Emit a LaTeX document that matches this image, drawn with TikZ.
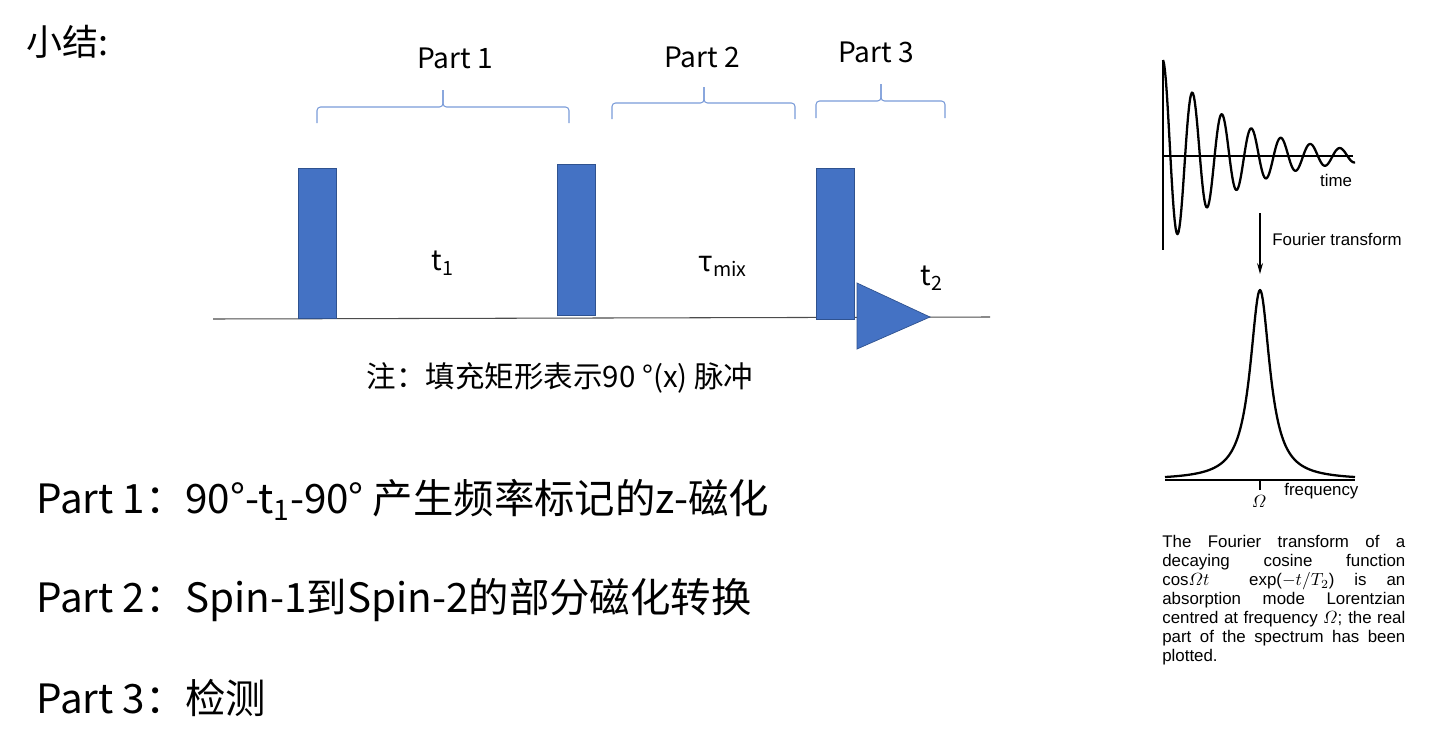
\documentclass[tikz,border=0pt]{standalone}
\usepackage{amsmath}
\usepackage{fontspec}
\setmainfont{Noto Sans CJK SC}
\newfontfamily\arialfont{Liberation Sans}
\usetikzlibrary{arrows.meta}
\definecolor{pulseblue}{HTML}{4472C4}
\definecolor{pulseedge}{HTML}{2F528F}
\definecolor{bracecol}{HTML}{7A9BD8}
\tikzstyle{pulse} = [rectangle, anchor=south, minimum width=0.76cm, minimum height=3cm, inner sep=0pt, draw=pulseedge, fill=pulseblue]
\tikzstyle{brace} = [draw=bracecol, line width=0.6pt, rounded corners=0.07cm]
\tikzstyle{seqline} = [draw=black!70, line width=0.6pt]
\tikzstyle{seqtext} = [inner sep=0pt, font=\fontsize{16}{19}\selectfont]
\tikzstyle{summary} = [anchor=west, inner sep=0pt, font=\fontsize{23}{27}\selectfont]
\tikzstyle{smalltext} = [inner sep=0pt, font=\arialfont\fontsize{9.6}{10.8}\selectfont]
\tikzstyle{axis} = [draw=black, line width=0.6pt]
\tikzstyle{curve} = [draw=black, line width=1.3pt, line join=round]
\tikzstyle{arrow} = [line width=0.6pt, -{Stealth[length=0.22cm, width=0.12cm]}]

\begin{document}
\begin{tikzpicture}[x=0.02cm, y=-0.02cm]
	\useasboundingbox (0,0) rectangle (1440,747);
	
	% Titel
	\node (title) [anchor=west, inner sep=0pt, font=\fontsize{20.5}{24}\selectfont] at (26,42) {小结:};
	
	% Pulsfolge
	\coordinate (axstart) at (213,319);
	\coordinate (axend) at (990,317);
	\draw [seqline] (axstart) -- (axend);
	\node (p1) [pulse, minimum height=3cm] at (317.5,319) {};
	\node (p2) [pulse, minimum height=3.02cm] at (576,316) {};
	\node (p3) [pulse, minimum height=3.02cm] at (835,320) {};
	\draw [fill=pulseblue, draw=pulseedge] (857,283) -- (857,349) -- (930,317) -- cycle;
	
	% Zeiten
	\node (t1) [seqtext] at (443,263) {t\textsubscript{1}};
	\node (tmix) [seqtext] at (723,266) {τ\textsubscript{mix}};
	\node (t2) [seqtext] at (932,278) {t\textsubscript{2}};
	
	% Klammern
	\draw [brace] (317,123) |- (443,107) -- (443,90);
	\draw [brace] (443,90) -- (443,107) -| (569,123);
	\draw [brace] (612,119) |- (704,103) -- (704,87);
	\draw [brace] (704,87) -- (704,103) -| (795,119);
	\draw [brace] (816,118) |- (881,101) -- (881,84);
	\draw [brace] (881,84) -- (881,101) -| (945,118);
	\node (part1) [seqtext] at (455,58) {Part 1};
	\node (part2) [seqtext] at (702,57) {Part 2};
	\node (part3) [seqtext] at (876,52) {Part 3};
	
	% Hinweis
	\node (note) [seqtext, font=\fontsize{16.8}{20}\selectfont] at (560,378) {注：填充矩形表示90 °(x) 脉冲};
	
	% Zusammenfassung
	\node (sum1) [summary] at (36,500) {Part 1：90°-t\textsubscript{1}-90° 产生频率标记的z-磁化};
	\node (sum2) [summary] at (36,600) {Part 2：Spin-1到Spin-2的部分磁化转换};
	\node (sum3) [summary] at (36,698) {Part 3：检测};
	
	% FID
	\draw [axis] (1163,60) -- (1163,250);
	\draw [axis] (1163,156) -- (1353,156);
	\draw [curve] plot[domain=0:192, samples=200] ({1163+\x}, {156-96*exp(-\x/71)*cos(12.2034*\x)});
	\node (timelab) [smalltext] at (1336,180) {time};
	
	% Fourier-Transformation
	\coordinate (ftop) at (1260,213);
	\coordinate (fbot) at (1260,274);
	\draw [arrow] (ftop) -- (fbot);
	\node (ftlab) [smalltext, anchor=west] at (1272,239) {Fourier transform};
	
	% Spektrum
	\draw [axis] (1165,480) -- (1355,480);
	\draw [curve] plot[domain=-95:95, samples=201] ({1260+\x}, {480-190/(1+(\x/12)^2)});
	\draw [axis] (1260,480) -- (1260,490);
	\node (omega) [smalltext] at (1259,501) {$\varOmega$};
	\node (freqlab) [smalltext, anchor=west] at (1284,491) {frequency};
	
	% Bildunterschrift
	\node (caption) [smalltext, anchor=north west, text width=4.86cm, align=justify] at (1162,535) {The Fourier transform of a\linebreak decaying cosine function\linebreak cos$\varOmega t$\ \ exp($-t/T_2$) is an\linebreak absorption mode Lorentzian\linebreak centred at frequency $\varOmega$; the real\linebreak part of the spectrum has been\linebreak plotted.};
	
\end{tikzpicture}
\end{document}
